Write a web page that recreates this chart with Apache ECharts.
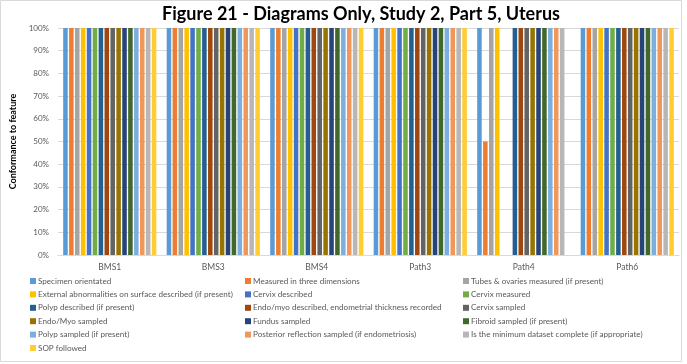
<!DOCTYPE html>
<html>
<head>
<meta charset="utf-8">
<script src="https://cdn.jsdelivr.net/npm/echarts@6/dist/echarts.min.js"></script>
<style>
  html, body { margin: 0; padding: 0; background: #fff; }
  #chart { width: 687px; height: 364px; }
</style>
</head>
<body>
<div id="chart"></div>
<script>
var categories = ["BMS1", "BMS3", "BMS4", "Path3", "Path4", "Path6"];

var seriesNames = [
  "Specimen orientated",
  "Measured in three dimensions",
  "Tubes & ovaries measured (if present)",
  "External abnormalities on surface described (if present)",
  "Cervix described",
  "Cervix measured",
  "Polyp described (if present)",
  "Endo/myo described, endometrial thickness recorded",
  "Cervix sampled",
  "Endo/Myo sampled",
  "Fundus sampled",
  "Fibroid sampled (if present)",
  "Polyp sampled (if present)",
  "Posterior reflection sampled (if endometriosis)",
  "Is the minimum dataset complete (if appropriate)",
  "SOP followed"
];

// one row per series, one value per category (percent)
var specimenOrientated = [100, 100, 100, 100, 100, 100];
var measuredThreeDims = [100, 100, 100, 100, 50, 100];
var tubesOvaries = [100, 100, 100, 100, 100, 100];
var externalAbnormalities = [100, 100, 100, 100, 100, 100];
var cervixDescribed = [100, 100, 100, 100, 0, 100];
var cervixMeasured = [100, 100, 100, 100, 0, 100];
var polypDescribed = [100, 100, 100, 100, 100, 100];
var endoMyoDescribed = [100, 100, 100, 100, 100, 100];
var cervixSampled = [100, 100, 100, 100, 100, 100];
var endoMyoSampled = [100, 100, 100, 100, 100, 100];
var fundusSampled = [100, 100, 100, 100, 100, 100];
var fibroidSampled = [100, 100, 100, 100, 100, 100];
var polypSampled = [100, 100, 100, 100, 100, 100];
var posteriorReflection = [100, 100, 100, 100, 100, 100];
var minimumDataset = [100, 100, 100, 100, 100, 100];
var sopFollowed = [100, 100, 100, 100, 0, 100];

var seriesData = [
  specimenOrientated, measuredThreeDims, tubesOvaries, externalAbnormalities,
  cervixDescribed, cervixMeasured, polypDescribed, endoMyoDescribed,
  cervixSampled, endoMyoSampled, fundusSampled, fibroidSampled,
  polypSampled, posteriorReflection, minimumDataset, sopFollowed
];

var yTicks = [0, 10, 20, 30, 40, 50, 60, 70, 80, 90, 100];

var colors = [
  "#5B9BD5", "#ED7D31", "#A5A5A5", "#FFC000", "#4472C4", "#70AD47",
  "#255E91", "#9E480E", "#636363", "#997300", "#264478", "#43682B",
  "#7CAFDD", "#F1975A", "#B7B7B7", "#FFCD33"
];

var fontFamily = "Lato, 'Open Sans', sans-serif";

var chart = echarts.init(document.getElementById("chart"));

var series = seriesData.map(function (d, i) {
  return {
    name: seriesNames[i],
    type: "bar",
    data: d,
    barGap: "30%",
    barCategoryGap: "10%",
    itemStyle: { color: colors[i] },
    animation: false
  };
});

// legend split in three columns like the excel layout
function legendColumn(col, left) {
  var names = seriesNames.filter(function (n, i) {
    return i % 3 === col;
  });
  return {
    data: names,
    orient: "vertical",
    left: left,
    top: 276,
    itemWidth: 6,
    itemHeight: 6,
    itemGap: 3.4,
    icon: "rect",
    textStyle: {
      fontFamily: fontFamily,
      fontSize: 8.1,
      lineHeight: 10,
      color: "#595959",
      padding: [0, 0, 0, -3]
    },
    selectedMode: false,
    padding: 0
  };
}

chart.setOption({
  color: colors,
  title: {
    text: "Figure 21 - Diagrams Only, Study 2, Part 5, Uterus",
    left: 356,
    textAlign: "center",
    top: 0,
    textStyle: {
      fontFamily: fontFamily,
      fontSize: 18,
      fontWeight: "bold",
      color: "#000"
    }
  },
  grid: {
    left: 58,
    right: 8,
    top: 28,
    bottom: 109,
    containLabel: false
  },
  legend: [
    legendColumn(0, 30),
    legendColumn(1, 245),
    legendColumn(2, 463)
  ],
  xAxis: {
    type: "category",
    data: categories,
    axisTick: { show: false },
    axisLine: { lineStyle: { color: "#d9d9d9" } },
    axisLabel: {
      fontFamily: fontFamily,
      fontSize: 8.5,
      color: "#595959",
      margin: 8
    }
  },
  yAxis: {
    type: "value",
    min: yTicks[0],
    max: yTicks[yTicks.length - 1],
    interval: 10,
    name: "Conformance to feature",
    nameLocation: "middle",
    nameGap: 31,
    nameTextStyle: {
      fontFamily: fontFamily,
      fontSize: 9,
      fontWeight: "bold",
      color: "#000"
    },
    axisLine: { show: false },
    axisTick: { show: false },
    axisLabel: {
      formatter: "{value}%",
      fontFamily: fontFamily,
      fontSize: 8,
      color: "#595959",
      margin: 9
    },
    splitLine: { lineStyle: { color: "#d9d9d9" } }
  },
  graphic: [
    {
      type: "rect",
      shape: { x: 0.5, y: 0.5, width: 681, height: 361 },
      style: { fill: "none", stroke: "#d9d9d9", lineWidth: 1 },
      silent: true
    }
  ],
  series: series
});
</script>
</body>
</html>
